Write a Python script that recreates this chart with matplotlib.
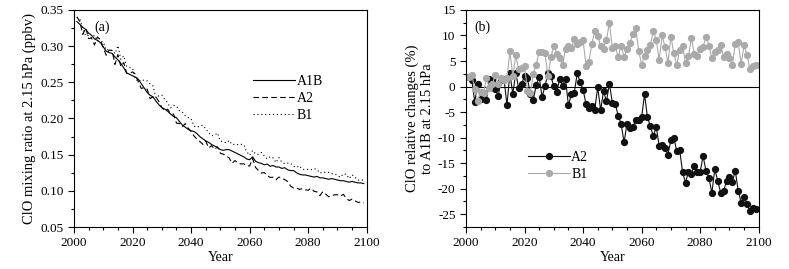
import numpy as np
import matplotlib
matplotlib.use("Agg")
import matplotlib.pyplot as plt
from matplotlib.ticker import MultipleLocator

plt.rcParams['font.family'] = ['Liberation Serif', 'DejaVu Serif']
plt.rcParams['axes.unicode_minus'] = False
plt.rcParams['font.size'] = 9.5

years = np.arange(2001, 2100)

# ClO mixing ratio (ppbv) at 2.15 hPa, A1B scenario
a1b = [0.334, 0.330, 0.326, 0.323, 0.318, 0.315, 0.310, 0.308, 0.305, 0.299,
       0.293, 0.291, 0.290, 0.285, 0.281, 0.276, 0.270, 0.263, 0.261, 0.259,
       0.257, 0.254, 0.248, 0.242, 0.236, 0.232, 0.230, 0.224, 0.219, 0.215,
       0.213, 0.210, 0.206, 0.203, 0.201, 0.196, 0.191, 0.188, 0.185, 0.183,
       0.182, 0.179, 0.175, 0.172, 0.169, 0.167, 0.164, 0.162, 0.160, 0.157,
       0.156, 0.157, 0.157, 0.155, 0.153, 0.151, 0.149, 0.147, 0.144, 0.143,
       0.147, 0.141, 0.139, 0.138, 0.136, 0.137, 0.134, 0.135, 0.133, 0.133,
       0.131, 0.132, 0.129, 0.128, 0.128, 0.125, 0.123, 0.122, 0.122, 0.121,
       0.120, 0.119, 0.120, 0.118, 0.118, 0.117, 0.116, 0.117, 0.116, 0.115,
       0.114, 0.114, 0.113, 0.112, 0.113, 0.112, 0.111, 0.111, 0.110]

# relative changes (%) to A1B
rel_a2 = [1.9, 1.2, -3.0, 0.6, -2.4, -1.2, -2.7, 1.5, 1.3, -0.4,
          -1.9, 1.2, 1.4, -3.6, 2.6, -1.5, 2.7, -0.3, 0.5, 2.1,
          1.6, -1.5, -2.6, 0.3, 1.9, -2.0, 0.1, 2.6, 2.0, 0.1,
          -1.1, 1.4, 0.2, 1.5, -3.7, -1.5, -1.2, 2.6, 0.9, -0.6,
          -3.4, -4.2, -3.9, -4.5, -0.1, -4.6, -0.9, -2.9, 0.6, -3.2,
          -3.4, -5.7, -7.3, -10.9, -7.3, -8.2, -7.9, -6.6, -6.5, -6.0,
          -1.5, -6.0, -7.8, -9.7, -7.9, -11.6, -11.5, -12.0, -13.3, -10.5,
          -10.0, -12.6, -12.4, -16.8, -18.8, -16.7, -17.1, -15.5, -16.8, -16.7,
          -13.6, -16.5, -17.9, -20.8, -16.2, -18.4, -20.8, -20.5, -18.5, -17.7,
          -18.6, -16.5, -20.4, -22.7, -21.6, -23.0, -24.4, -23.7, -24.0]

rel_b1 = [1.8, 2.3, -0.5, -2.8, -1.0, -1.2, 1.6, -0.3, 0.6, 2.2,
          0.5, 1.6, 1.2, 1.6, 7.0, 2.0, 6.1, 3.4, 3.6, 4.0,
          -0.8, -1.2, 2.4, 4.3, 6.8, 6.7, 6.5, 2.0, 5.7, 8.0,
          6.3, 5.5, 4.2, 7.4, 8.0, 7.5, 9.3, 8.4, 8.8, 9.1,
          4.1, 4.9, 8.4, 10.8, 9.9, 8.0, 7.4, 9.2, 12.5, 7.5,
          7.9, 5.8, 8.0, 5.8, 7.4, 8.5, 10.3, 11.4, 7.0, 4.3,
          6.0, 7.2, 8.2, 10.9, 9.2, 5.2, 10.0, 7.8, 4.6, 9.8,
          6.5, 4.2, 7.2, 7.9, 4.7, 5.9, 9.5, 6.4, 6.0, 7.3,
          7.8, 9.8, 8.0, 5.5, 6.8, 7.2, 8.2, 5.8, 6.4, 5.6,
          4.2, 8.4, 8.7, 4.5, 8.1, 6.2, 3.4, 4.0, 4.2]

a1b = np.array(a1b)
a2 = a1b * (1 + np.array(rel_a2) / 100.0)
b1 = a1b * (1 + np.array(rel_b1) / 100.0)

fig = plt.figure(figsize=(7.89, 2.69), dpi=100)
ax1 = fig.add_axes([0.0938, 0.156, 0.371, 0.807])
ax2 = fig.add_axes([0.5906, 0.156, 0.371, 0.807])

lw = 0.8
ax1.plot(years, a1b, color='k', lw=lw, ls='-', label='A1B')
ax1.plot(years, a2, color='k', lw=lw, ls=(0, (5, 3)), label='A2')
ax1.plot(years, b1, color='k', lw=lw, ls=(0, (1, 2.5)), label='B1')
ax1.set_xlim(2000, 2100)
ax1.set_ylim(0.05, 0.35)
ax1.yaxis.set_major_locator(MultipleLocator(0.05))
ax1.yaxis.set_minor_locator(MultipleLocator(0.025))
ax1.yaxis.set_major_formatter(plt.FormatStrFormatter('%.2f'))
ax1.set_xlabel('Year', labelpad=1, fontsize=10)
ax1.set_ylabel('ClO mixing ratio at 2.15 hPa (ppbv)', labelpad=3, fontsize=10.5)
ax1.text(0.07, 0.95, '(a)', transform=ax1.transAxes, va='top', ha='left', fontsize=10)
ax1.legend(loc='upper left', bbox_to_anchor=(0.57, 0.76), frameon=False,
           handlelength=3.0, handletextpad=0.1, labelspacing=0.3, fontsize=10)

ax2.axhline(0, color='k', lw=0.8)
ax2.plot(years, rel_a2, color='#111111', lw=0.8, marker='o', ms=4.2, label='A2')
ax2.plot(years, rel_b1, color='#aaaaaa', lw=0.8, marker='o', ms=4.2, label='B1')
ax2.set_xlim(2000, 2100)
ax2.set_ylim(-27.5, 15)
ax2.yaxis.set_major_locator(MultipleLocator(5))
ax2.yaxis.set_minor_locator(MultipleLocator(2.5))
ax2.set_xlabel('Year', labelpad=1, fontsize=10)
ax2.set_ylabel('ClO relative changes (%)\nto A1B at 2.15 hPa', labelpad=3,
               fontsize=10.5, linespacing=1.15)
ax2.text(0.03, 0.95, '(b)', transform=ax2.transAxes, va='top', ha='left', fontsize=10)
ax2.legend(loc='upper left', bbox_to_anchor=(0.17, 0.41), frameon=False,
           handlelength=3.0, handletextpad=0.1, labelspacing=0.3, fontsize=10)

for ax in (ax1, ax2):
    ax.xaxis.set_major_locator(MultipleLocator(20))
    ax.xaxis.set_minor_locator(MultipleLocator(5))
    ax.tick_params(which='major', direction='out', length=4, width=0.8,
                   top=False, right=False, labelsize=9.5)
    ax.tick_params(which='minor', direction='out', length=2, width=0.8,
                   top=False, right=False)
    for s in ax.spines.values():
        s.set_linewidth(0.8)

fig.savefig('out.png', dpi=100)
